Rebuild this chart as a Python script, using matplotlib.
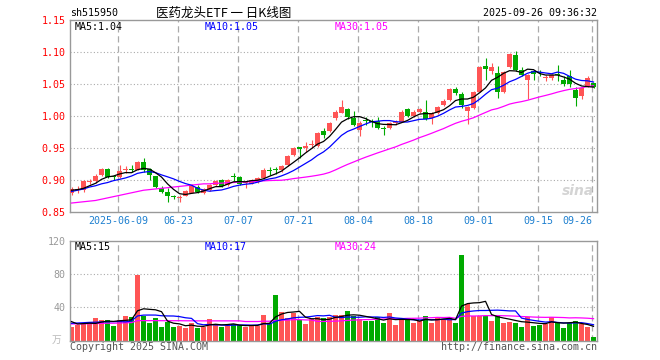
import matplotlib
matplotlib.use("Agg")
import matplotlib.pyplot as plt
import numpy as np
import pandas as pd

# sh515950 daily candles, 2025-05-27 .. 2025-09-26
opens = [0.880, 0.884, 0.884, 0.897, 0.898, 0.908, 0.917, 0.906, 0.904, 0.916,
         0.917, 0.916, 0.928, 0.917, 0.906, 0.8875, 0.882, 0.874, 0.8725, 0.8755,
         0.880, 0.889, 0.880, 0.884, 0.892, 0.900, 0.892, 0.906, 0.905, 0.896,
         0.894, 0.897, 0.903, 0.916, 0.917, 0.915, 0.923, 0.939, 0.951, 0.9495,
         0.955, 0.953, 0.977, 0.977, 0.9965, 1.005, 1.0105, 0.9965, 0.978, 0.9935,
         0.9925, 0.9925, 0.981, 0.982, 0.989, 0.991, 1.0105, 1.000, 1.007, 1.007,
         0.9965, 1.005, 1.017, 1.025, 1.0417, 1.034, 1.0083, 1.012, 1.038, 1.078,
         1.071, 1.067, 1.038, 1.077, 1.095, 1.072, 1.056, 1.070, 1.068, 1.059,
         1.060, 1.065, 1.057, 1.0625, 1.0406, 1.031, 1.047, 1.051]
highs = [0.889, 0.890, 0.900, 0.902, 0.910, 0.919, 0.919, 0.907, 0.924, 0.922,
         0.924, 0.930, 0.934, 0.918, 0.907, 0.891, 0.887, 0.877, 0.877, 0.885,
         0.893, 0.892, 0.888, 0.894, 0.900, 0.902, 0.901, 0.911, 0.906, 0.899,
         0.902, 0.905, 0.919, 0.920, 0.920, 0.924, 0.939, 0.951, 0.951, 0.960,
         0.963, 0.975, 0.982, 0.990, 1.009, 1.0255, 1.013, 1.008, 0.992, 0.998,
         0.996, 0.998, 0.984, 0.990, 0.994, 1.009, 1.013, 1.009, 1.013, 1.0255,
         1.007, 1.016, 1.026, 1.043, 1.045, 1.038, 1.016, 1.039, 1.078, 1.090,
         1.083, 1.078, 1.070, 1.099, 1.1015, 1.076, 1.066, 1.072, 1.072, 1.064,
         1.066, 1.080, 1.063, 1.0725, 1.045, 1.044, 1.062, 1.052]
lows = [0.877, 0.880, 0.882, 0.893, 0.896, 0.906, 0.903, 0.900, 0.903, 0.911,
        0.912, 0.915, 0.913, 0.900, 0.887, 0.879, 0.866, 0.870, 0.865, 0.875,
        0.879, 0.880, 0.878, 0.883, 0.891, 0.889, 0.891, 0.898, 0.892, 0.888,
        0.893, 0.896, 0.902, 0.908, 0.909, 0.913, 0.922, 0.938, 0.935, 0.944,
        0.950, 0.951, 0.966, 0.975, 0.994, 1.004, 0.996, 0.984, 0.968, 0.986,
        0.983, 0.979, 0.970, 0.979, 0.986, 0.990, 0.998, 0.999, 1.005, 0.993,
        0.9875, 1.003, 1.015, 1.024, 1.033, 1.013, 0.987, 1.011, 1.037, 1.0555,
        1.066, 1.0275, 1.036, 1.075, 1.070, 1.062, 1.0265, 1.056, 1.062, 1.0545,
        1.056, 1.0545, 1.047, 1.046, 1.016, 1.027, 1.046, 1.043]
closes = [0.886, 0.886, 0.898, 0.898, 0.906, 0.917, 0.905, 0.905, 0.914, 0.917,
          0.916, 0.928, 0.916, 0.908, 0.889, 0.882, 0.875, 0.873, 0.874, 0.883,
          0.8905, 0.881, 0.8855, 0.892, 0.899, 0.891, 0.900, 0.904, 0.894, 0.897,
          0.900, 0.903, 0.9155, 0.914, 0.915, 0.922, 0.9375, 0.9495, 0.949, 0.953,
          0.956, 0.973, 0.970, 0.9885, 1.007, 1.0136, 0.999, 0.986, 0.9895, 0.992,
          0.991, 0.982, 0.980, 0.9885, 0.990, 1.007, 1.000, 1.007, 1.0105, 0.995,
          1.005, 1.0145, 1.024, 1.0417, 1.0355, 1.017, 1.0145, 1.038, 1.076, 1.074,
          1.076, 1.038, 1.069, 1.097, 1.072, 1.064, 1.064, 1.065, 1.067, 1.060,
          1.064, 1.064, 1.050, 1.050, 1.0277, 1.043, 1.059, 1.046]
volumes = [16.9, 18.9, 19.7, 20.9, 27.3, 24.9, 24.9, 17.7, 24.9, 29.7,
           28.1, 79.0, 29.7, 21.7, 26.9, 16.9, 22.5, 16.9, 17.7, 15.7,
           20.9, 15.7, 16.1, 26.1, 20.1, 16.9, 17.7, 20.1, 18.9, 16.9,
           17.7, 18.1, 30.9, 20.9, 55.0, 34.9, 27.7, 33.7, 24.9, 19.7,
           25.7, 28.1, 27.3, 28.1, 30.9, 30.9, 35.7, 29.7, 25.7, 24.1,
           24.1, 28.1, 21.7, 33.7, 18.9, 25.7, 26.9, 21.7, 24.1, 29.7,
           21.7, 28.9, 25.7, 28.1, 21.7, 103.0, 44.1, 29.7, 29.7, 29.7,
           24.1, 30.9, 21.7, 22.9, 21.7, 16.9, 28.1, 18.1, 18.9, 20.1,
           28.1, 22.9, 15.7, 20.9, 23.7, 20.1, 16.9, 4.8]

# moving-average values before the window is full
ma5_head = [0.884, 0.885, 0.887, 0.891]
ma10_head = [0.882, 0.884, 0.886, 0.889, 0.891, 0.894, 0.896, 0.899, 0.901]
ma30_head = [0.864, 0.865, 0.866, 0.867, 0.868, 0.870, 0.872, 0.874, 0.876, 0.878,
             0.880, 0.882, 0.884, 0.885, 0.886, 0.887, 0.888, 0.889, 0.890, 0.891,
             0.892, 0.893, 0.894, 0.894, 0.895, 0.895, 0.896, 0.896, 0.897]
vma5_head = [22.9, 20.1, 20.5, 21.0]
vma10_head = [20.9, 21.2, 21.6, 22.0, 22.2, 22.5, 22.7, 22.9, 23.0]
vma30_head = [20.1, 20.2, 20.3, 20.4, 20.6, 20.8, 21.0, 21.0, 21.2, 21.5,
              21.7, 24.1, 24.1, 24.1, 24.1, 24.0, 24.0, 24.0, 24.0, 23.9,
              23.9, 23.8, 23.8, 23.8, 23.8, 23.8, 23.8, 23.8, 23.8]

tick_labels = ["2025-06-09", "06-23", "07-07", "07-21", "08-04",
               "08-18", "09-01", "09-15", "09-26"]
tick_days = [8, 18, 28, 38, 48, 58, 68, 78, 87]

RED = "#ff5555"
GREEN = "#00aa00"
GRID = "#aaaaaa"
FRAME = "#999999"
MONO = "DejaVu Sans Mono"
W, H = 660, 360


def with_ma(values, head, n):
    rolled = pd.Series(values).rolling(n).mean().iloc[n - 1:].tolist()
    return np.array(head + rolled)


def fig_xy(x, y):
    return x / W, 1 - y / H


x = np.arange(len(closes))
o = np.array(opens)
c = np.array(closes)
colors = np.where(c >= o, RED, GREEN)

fig = plt.figure(figsize=(6.6, 3.6), dpi=100)
ax = fig.add_axes([70 / W, 1 - 212 / H, 527 / W, 192 / H])
axv = fig.add_axes([70 / W, 1 - 340.7 / H, 527 / W, 100 / H])

xlim = (-0.25, 87.58)
grid_x = np.array(tick_days) - 0.25

for a in (ax, axv):
    for s in a.spines.values():
        s.set_color(FRAME)
        s.set_linewidth(1.0)
    for gx in grid_x:
        a.axvline(gx, color=GRID, lw=0.9, dashes=(5, 3), zorder=0)
    a.set_xlim(*xlim)
    a.tick_params(length=0)

# price panel
for lvl in [0.90, 0.95, 1.00, 1.05, 1.10]:
    ax.axhline(lvl, color=GRID, lw=0.8, dashes=(1, 2), zorder=0)
ax.vlines(x, lows, highs, colors=colors, lw=0.8, zorder=2)
body = np.maximum(np.abs(c - o), 0.0013)
ax.bar(x, body, bottom=np.minimum(o, c), width=0.82, color=colors,
       linewidth=0, zorder=3)
ax.plot(x, with_ma(closes, ma30_head, 30), color="#ff00ff", lw=0.9, zorder=4)
ax.plot(x, with_ma(closes, ma10_head, 10), color="#0000ff", lw=0.9, zorder=4)
ax.plot(x, with_ma(closes, ma5_head, 5), color="black", lw=0.9, zorder=4)
ax.set_ylim(0.85, 1.15)
yt = [0.85, 0.90, 0.95, 1.00, 1.05, 1.10, 1.15]
ax.set_yticks(yt)
ax.set_yticklabels([f"{v:.2f}" for v in yt], color="red", fontsize=7.2,
                   family=MONO)
ax.set_xticks(grid_x)
ax.set_xticklabels(tick_labels, color="#1f80d0", fontsize=7.2, family=MONO)
ax.tick_params(axis="y", pad=3)
ax.tick_params(axis="x", pad=3)
ax.get_xticklabels()[-1].set_horizontalalignment("right")

# volume panel
for lvl in [40, 80]:
    axv.axhline(lvl, color=GRID, lw=0.8, dashes=(1, 2), zorder=0)
axv.bar(x, volumes, width=0.82, color=colors, linewidth=0, zorder=2)
axv.plot(x, with_ma(volumes, vma30_head, 30), color="#ff00ff", lw=0.9, zorder=4)
axv.plot(x, with_ma(volumes, vma10_head, 10), color="#0000ff", lw=0.9, zorder=4)
axv.plot(x, with_ma(volumes, vma5_head, 5), color="black", lw=0.9, zorder=4)
axv.set_ylim(0, 120)
axv.set_yticks([40, 80, 120])
axv.set_yticklabels(["40", "80", "120"], color=FRAME, fontsize=7.2, family=MONO)
axv.tick_params(axis="y", pad=3)
axv.set_xticks([])

# header and legend texts
fig.text(*fig_xy(70, 13), "sh515950", fontsize=7.2, family=MONO, va="center")
fig.text(*fig_xy(224, 13), "医药龙头ETF 一 日K线图", fontsize=9,
         family=["Noto Sans CJK SC", "DejaVu Sans"], ha="center", va="center")
fig.text(*fig_xy(597, 13), "2025-09-26 09:36:32", fontsize=7.2, family=MONO,
         ha="right", va="center")
legend = [("MA5:1.04", "black", 75), ("MA10:1.05", "#0000ff", 205),
          ("MA30:1.05", "#ff00ff", 335)]
for txt, col, lx in legend:
    fig.text(*fig_xy(lx, 26.5), txt, color=col, fontsize=7.2, family=MONO,
             va="center")
vlegend = [("MA5:15", "black", 75), ("MA10:17", "#0000ff", 205),
           ("MA30:24", "#ff00ff", 335)]
for txt, col, lx in vlegend:
    fig.text(*fig_xy(lx, 246.5), txt, color=col, fontsize=7.2, family=MONO,
             va="center")
fig.text(*fig_xy(57, 340), "万", color="#bbbbbb", fontsize=7,
         family=["Noto Sans CJK SC", "DejaVu Sans"], ha="center", va="center")
fig.text(*fig_xy(70, 347), "Copyright 2025 SINA.COM", color="#555555",
         fontsize=7.2, family=MONO, va="center")
fig.text(*fig_xy(597, 347), "http://finance.sina.com.cn", color="#555555",
         fontsize=7.2, family=MONO, ha="right", va="center")
fig.text(*fig_xy(578, 191), "sina", color="#d4d4d4", fontsize=10,
         style="italic", weight="bold", ha="center", va="center")

fig.savefig("out.png", dpi=100)
